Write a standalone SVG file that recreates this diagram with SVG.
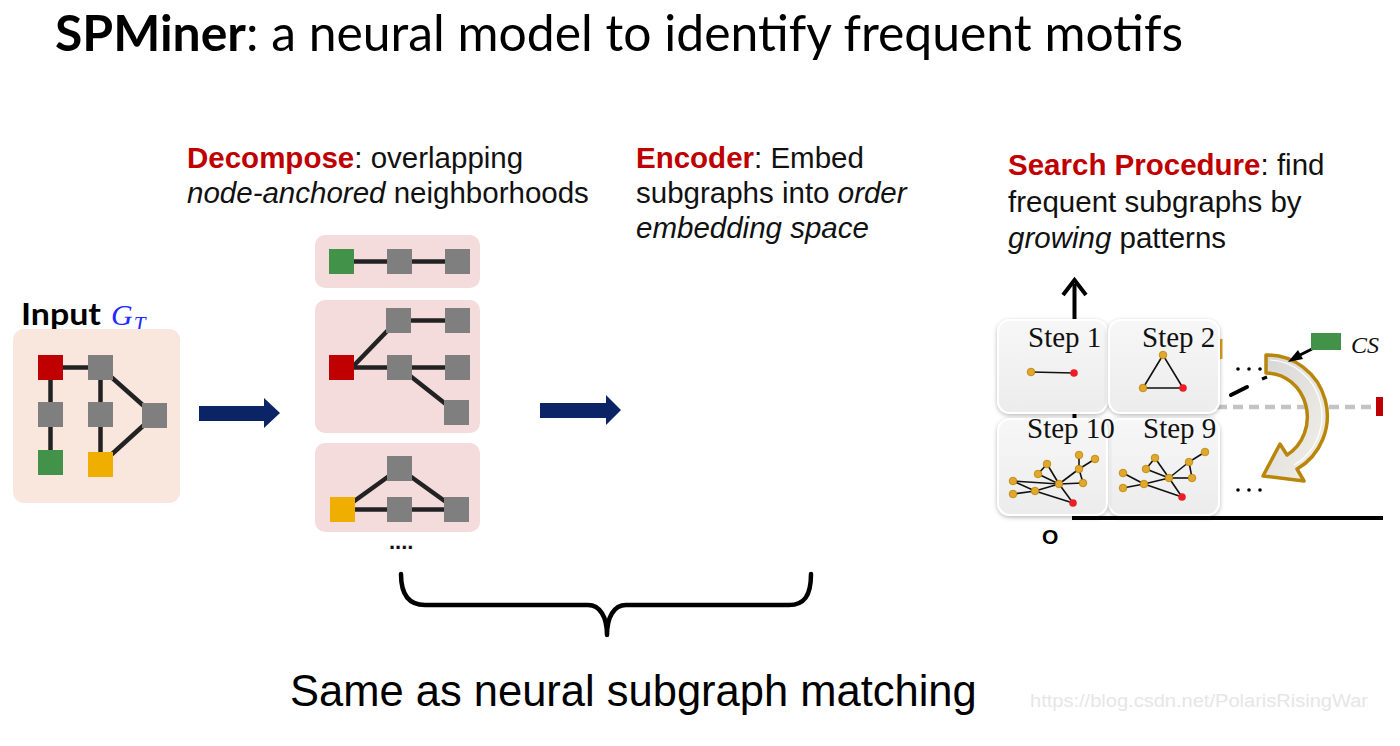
<svg xmlns="http://www.w3.org/2000/svg" width="1400" height="746" viewBox="0 0 1400 746">
<style>
.sans{font-family:"Liberation Sans",Arial,sans-serif}
.cal{font-family:Lato,"Open Sans",sans-serif}
.serif{font-family:"Liberation Serif","Times New Roman",serif}
.b{font-weight:bold}
.i{font-style:italic}
.red{fill:#c00000}
.desc{font-size:29.5px;fill:#111}
.gr{fill:#7f7f7f}
.rd{fill:#c00000}
.gn{fill:#43924a}
.yl{fill:#f0ae00}
.e{stroke:#222;stroke-width:4.5;fill:none}
.e2{stroke:#111;stroke-width:1.6;fill:none}
.yd{fill:#e0a82e;stroke:#b88400;stroke-width:0.8}
.rdot{fill:#ee1c24}
.card{fill:url(#cardg);stroke:#ffffff;stroke-width:2;filter:url(#sh)}
.step{font-size:29px;fill:#111}
.nav{fill:#0b2466}
</style>
<defs>
<filter id="sh" x="-20%" y="-20%" width="140%" height="140%">
<feDropShadow dx="0" dy="1.5" stdDeviation="2" flood-color="#000" flood-opacity="0.28"/>
</filter>
<linearGradient id="cardg" x1="0" y1="0" x2="0" y2="1">
<stop offset="0" stop-color="#f7f7f7"/>
<stop offset="1" stop-color="#ececec"/>
</linearGradient>
<linearGradient id="arcg" x1="0" y1="0" x2="1" y2="1">
<stop offset="0" stop-color="#d6d6d6"/>
<stop offset="1" stop-color="#f4f1e8"/>
</linearGradient>
</defs>
<rect width="1400" height="746" fill="#ffffff"/>

<g id="title">
<text x="55" y="51" class="cal" font-size="50" fill="#000" textLength="1128" lengthAdjust="spacingAndGlyphs"><tspan class="b">SPMiner</tspan>: a neural model to identify frequent motifs</text>
</g>

<g id="input">
<text x="21" y="325" class="cal b" font-size="30" fill="#000" textLength="80" lengthAdjust="spacingAndGlyphs">Input</text>
<text x="111" y="325" class="serif i" font-size="30" fill="#1f2bff">G<tspan font-size="21" dx="1" dy="6">T</tspan></text>
<rect x="13" y="329" width="167" height="174" rx="11" fill="#f9e6dc"/>
<line class="e" x1="50.5" y1="367.5" x2="100.5" y2="367.5"/>
<line class="e" x1="50.5" y1="367.5" x2="50.5" y2="462.5"/>
<line class="e" x1="100.5" y1="367.5" x2="100.5" y2="464.5"/>
<line class="e" x1="100.5" y1="367.5" x2="154.5" y2="415.5"/>
<line class="e" x1="154.5" y1="415.5" x2="100.5" y2="464.5"/>
<rect x="38" y="355" width="25" height="25" class="rd"/>
<rect x="88" y="355" width="25" height="25" class="gr"/>
<rect x="38" y="402" width="25" height="25" class="gr"/>
<rect x="88" y="402" width="25" height="25" class="gr"/>
<rect x="142" y="403" width="25" height="25" class="gr"/>
<rect x="38" y="450" width="25" height="25" class="gn"/>
<rect x="88" y="452" width="25" height="25" class="yl"/>
</g>

<g id="decompose-text">
<text x="187" y="168" class="sans desc"><tspan class="b red">Decompose</tspan>: overlapping</text>
<text x="187" y="203" class="sans desc"><tspan class="i">node-anchored</tspan> neighborhoods</text>
</g>

<g id="neighborhood1">
<rect x="315" y="235" width="165" height="53" rx="10" fill="#f5dcdc"/>
<line class="e" x1="341.5" y1="261.5" x2="457.5" y2="261.5"/>
<rect x="329" y="249" width="25" height="25" class="gn"/>
<rect x="387" y="249" width="25" height="25" class="gr"/>
<rect x="445" y="249" width="25" height="25" class="gr"/>
</g>

<g id="neighborhood2">
<rect x="315" y="300" width="165" height="133" rx="10" fill="#f5dcdc"/>
<line class="e" x1="352" y1="367.5" x2="392" y2="326"/>
<line class="e" x1="398.5" y1="320.5" x2="457.5" y2="320.5"/>
<line class="e" x1="341.5" y1="367.5" x2="457.5" y2="367.5"/>
<line class="e" x1="399.5" y1="367.5" x2="456.5" y2="412.5"/>
<rect x="329" y="355" width="25" height="25" class="rd"/>
<rect x="386" y="308" width="25" height="25" class="gr"/>
<rect x="445" y="308" width="25" height="25" class="gr"/>
<rect x="387" y="355" width="25" height="25" class="gr"/>
<rect x="445" y="355" width="25" height="25" class="gr"/>
<rect x="444" y="400" width="25" height="25" class="gr"/>
</g>

<g id="neighborhood3">
<rect x="315" y="443" width="165" height="89" rx="10" fill="#f5dcdc"/>
<line class="e" x1="342.5" y1="509.5" x2="399.5" y2="468.5"/>
<line class="e" x1="342.5" y1="509.5" x2="456.5" y2="509.5"/>
<line class="e" x1="399.5" y1="468.5" x2="456.5" y2="509.5"/>
<rect x="387" y="456" width="25" height="25" class="gr"/>
<rect x="330" y="497" width="25" height="25" class="yl"/>
<rect x="387" y="497" width="25" height="25" class="gr"/>
<rect x="444" y="497" width="25" height="25" class="gr"/>
<text x="389" y="549" class="sans b" font-size="22" fill="#111">....</text>
</g>

<g id="connectors">
<polygon class="nav" points="199,406 264,406 264,398 280,413 264,428 264,421 199,421"/>
<polygon class="nav" points="540,403 606,403 606,395 621,410 606,425 606,418 540,418"/>
<path d="M401,574 C401,596 410,605 425,605 L588,605 C600,605 607,617 607,635 C607,617 614,605 626,605 L789,605 C804,605 811,596 811,574" fill="none" stroke="#000" stroke-width="4.5" stroke-linecap="round" stroke-linejoin="round"/>
</g>

<g id="encoder-text">
<text x="636" y="168" class="sans desc"><tspan class="b red">Encoder</tspan>: Embed</text>
<text x="636" y="203" class="sans desc">subgraphs into <tspan class="i">order</tspan></text>
<text x="636" y="238" class="sans desc i">embedding space</text>
</g>

<g id="search-text">
<text x="1008" y="175" class="sans desc"><tspan class="b red">Search Procedure</tspan>: find</text>
<text x="1008" y="212" class="sans desc">frequent subgraphs by</text>
<text x="1008" y="248" class="sans desc"><tspan class="i">growing</tspan> patterns</text>
</g>

<g id="search-plot">
<line x1="1074.5" y1="517" x2="1074.5" y2="284" stroke="#000" stroke-width="4"/>
<polyline points="1063,295 1074.5,280 1086,295" fill="none" stroke="#000" stroke-width="4"/>
<line x1="1072" y1="518" x2="1383" y2="518" stroke="#000" stroke-width="4"/>
<text x="1042" y="544" class="sans b" font-size="21" fill="#000">O</text>
<line x1="1217" y1="407" x2="1375" y2="407" stroke="#c4c4c4" stroke-width="4.5" stroke-dasharray="10,6"/>
<rect x="1376" y="397" width="7" height="19" fill="#c00000"/>
<rect x="1219" y="339" width="3.5" height="20" fill="#d8a420"/>
<line x1="1231" y1="395" x2="1247" y2="387" stroke="#000" stroke-width="4" stroke-linecap="round"/>
<line x1="1262" y1="379" x2="1267" y2="377" stroke="#000" stroke-width="3"/>
<circle cx="1238" cy="369" r="1.8" fill="#000"/>
<circle cx="1249" cy="369" r="1.8" fill="#000"/>
<circle cx="1260" cy="369" r="1.8" fill="#000"/>
<circle cx="1238" cy="490" r="1.8" fill="#000"/>
<circle cx="1249" cy="490" r="1.8" fill="#000"/>
<circle cx="1260" cy="490" r="1.8" fill="#000"/>
<path d="M1266,355 A60,61 0 0 1 1297,469 L1304,481 L1263,476 L1280,444 L1287,455 A41,44 0 0 0 1266,373 Z" fill="url(#arcg)" stroke="#b8860b" stroke-width="3.5" stroke-linejoin="round"/>
<path d="M1270,360 A54,56 0 0 1 1294,465" fill="none" stroke="#fff" stroke-width="1.2"/>
<line x1="1312" y1="349" x2="1298" y2="356" stroke="#000" stroke-width="3"/>
<polygon points="1288,362 1298,350 1303,359" fill="#000"/>
<rect x="1311" y="333" width="30" height="17" fill="#43924a"/>
<text x="1351" y="353" class="serif i" font-size="24" fill="#111">CS</text>
</g>

<g id="step1">
<rect x="998" y="320" width="109" height="93" rx="12" class="card"/>
<text x="1028" y="347" class="serif step">Step 1</text>
<line class="e2" x1="1031" y1="372" x2="1074" y2="373"/>
<circle cx="1031" cy="372" r="3.8" class="yd"/>
<circle cx="1074" cy="373" r="3.8" class="rdot"/>
</g>

<g id="step2">
<rect x="1109" y="320" width="110" height="93" rx="12" class="card"/>
<text x="1142" y="347" class="serif step">Step 2</text>
<polygon points="1163,355 1143,388 1183,388" class="e2"/>
<circle cx="1163" cy="355" r="3.8" class="yd"/>
<circle cx="1143" cy="388" r="3.8" class="yd"/>
<circle cx="1183" cy="388" r="3.8" class="rdot"/>
</g>

<g id="step9">
<rect x="1109" y="419" width="110" height="96" rx="12" class="card"/>
<text x="1143" y="438" class="serif step">Step 9</text>
<g class="e2">
<line x1="1123" y1="473" x2="1144" y2="484"/>
<line x1="1123" y1="488" x2="1144" y2="484"/>
<line x1="1144" y1="484" x2="1169" y2="478"/>
<line x1="1144" y1="484" x2="1182" y2="497"/>
<line x1="1169" y1="478" x2="1182" y2="497"/>
<line x1="1146" y1="469" x2="1155" y2="458"/>
<line x1="1146" y1="469" x2="1169" y2="478"/>
<line x1="1155" y1="458" x2="1169" y2="478"/>
<line x1="1169" y1="478" x2="1189" y2="462"/>
<line x1="1189" y1="462" x2="1205" y2="452"/>
<line x1="1189" y1="462" x2="1192" y2="478"/>
<line x1="1169" y1="478" x2="1192" y2="478"/>
</g>
<circle cx="1123" cy="473" r="3.8" class="yd"/>
<circle cx="1123" cy="488" r="3.8" class="yd"/>
<circle cx="1144" cy="484" r="3.8" class="yd"/>
<circle cx="1169" cy="478" r="3.8" class="yd"/>
<circle cx="1146" cy="469" r="3.8" class="yd"/>
<circle cx="1155" cy="458" r="3.8" class="yd"/>
<circle cx="1189" cy="462" r="3.8" class="yd"/>
<circle cx="1205" cy="452" r="3.8" class="yd"/>
<circle cx="1192" cy="478" r="3.8" class="yd"/>
<circle cx="1182" cy="497" r="3.8" class="rdot"/>
</g>

<g id="step10">
<rect x="998" y="419" width="109" height="96" rx="12" class="card"/>
<text x="1027" y="438" class="serif step">Step 10</text>
<g class="e2">
<line x1="1013" y1="481" x2="1035" y2="491"/>
<line x1="1013" y1="494" x2="1035" y2="491"/>
<line x1="1013" y1="481" x2="1059" y2="484"/>
<line x1="1035" y1="491" x2="1059" y2="484"/>
<line x1="1035" y1="491" x2="1073" y2="503"/>
<line x1="1059" y1="484" x2="1073" y2="503"/>
<line x1="1038" y1="474" x2="1047" y2="464"/>
<line x1="1038" y1="474" x2="1059" y2="484"/>
<line x1="1047" y1="464" x2="1059" y2="484"/>
<line x1="1059" y1="484" x2="1079" y2="469"/>
<line x1="1079" y1="469" x2="1079" y2="455"/>
<line x1="1079" y1="469" x2="1095" y2="459"/>
<line x1="1079" y1="469" x2="1083" y2="483"/>
<line x1="1059" y1="484" x2="1083" y2="483"/>
</g>
<circle cx="1013" cy="481" r="3.8" class="yd"/>
<circle cx="1013" cy="494" r="3.8" class="yd"/>
<circle cx="1035" cy="491" r="3.8" class="yd"/>
<circle cx="1059" cy="484" r="3.8" class="yd"/>
<circle cx="1038" cy="474" r="3.8" class="yd"/>
<circle cx="1047" cy="464" r="3.8" class="yd"/>
<circle cx="1079" cy="455" r="3.8" class="yd"/>
<circle cx="1095" cy="459" r="3.8" class="yd"/>
<circle cx="1079" cy="469" r="3.8" class="yd"/>
<circle cx="1083" cy="483" r="3.8" class="yd"/>
<circle cx="1073" cy="503" r="3.8" class="rdot"/>
</g>

<g id="footer">
<text x="290" y="706" class="sans" font-size="43.5" fill="#000">Same as neural subgraph matching</text>
<text x="1030" y="707" class="sans" font-size="18" fill="#e6e6e6" textLength="338" lengthAdjust="spacingAndGlyphs">https://blog.csdn.net/PolarisRisingWar</text>
</g>
</svg>
